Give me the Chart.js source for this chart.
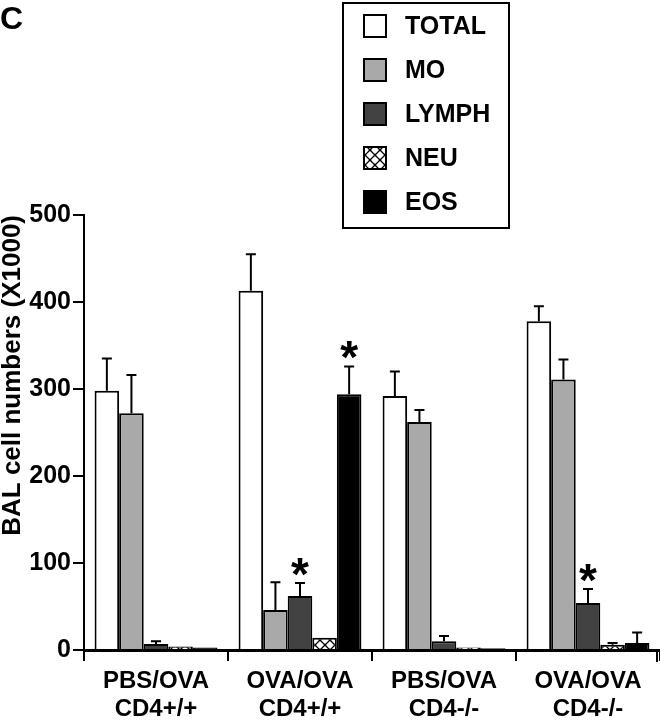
<!DOCTYPE html>
<html>
<head>
<meta charset="utf-8">
<script src="https://cdn.jsdelivr.net/npm/chart.js@4"></script>
<style>
  body { margin: 0; background: #fff; }
</style>
</head>
<body>
<canvas id="chart" width="660" height="720"></canvas>
<script>
// groups along x
const groups = [['PBS/OVA', 'CD4+/+'], ['OVA/OVA', 'CD4+/+'], ['PBS/OVA', 'CD4-/-'], ['OVA/OVA', 'CD4-/-']];
const yTicks = [0, 100, 200, 300, 400, 500];

// BAL cell numbers (x1000), mean values
const total = [298, 413, 292, 378];
const mo = [272, 46, 262, 311];
const lymph = [7, 62, 10, 54];
const neu = [4, 14, 3, 6];
const eos = [3, 294, 2, 8];

// upper error (SD) per series
const totalErr = [37, 42, 28, 17];
const moErr = [44, 32, 14, 23];
const lymphErr = [3, 15, 6, 16];
const neuErr = [0, 0, 0, 2];
const eosErr = [0, 32, 0, 12];

// significance stars: [series index, group index]
const stars = [[2, 1], [4, 1], [2, 3]];

const FONT = '"Liberation Sans", Arial, sans-serif';

// NEU fill: crosshatch with round holes
function neuPattern() {
    let c = document.createElement('canvas');
    c.width = 10; c.height = 10;
    let g = c.getContext('2d');
    g.fillStyle = '#fff'; g.fillRect(0, 0, 10, 10);
    g.strokeStyle = '#000'; g.lineWidth = 1.4;
    g.beginPath();
    g.moveTo(0, 0); g.lineTo(10, 10);
    g.moveTo(10, 0); g.lineTo(0, 10);
    g.stroke();
    g.fillStyle = '#fff';
    for (let [x, y] of [[5, 0], [0, 5], [10, 5], [5, 10]]) {
        g.beginPath(); g.arc(x, y, 2.6, 0, Math.PI * 2); g.fill();
    }
    return g.createPattern(c, 'repeat');
}

const series = [
    { label: 'TOTAL', data: total, err: totalErr, backgroundColor: '#ffffff' },
    { label: 'MO', data: mo, err: moErr, backgroundColor: '#a9a9a9' },
    { label: 'LYMPH', data: lymph, err: lymphErr, backgroundColor: '#424242' },
    { label: 'NEU', data: neu, err: neuErr, backgroundColor: neuPattern() },
    { label: 'EOS', data: eos, err: eosErr, backgroundColor: '#000000' },
];

// error bars + stars + legend box + panel letter
const extras = {
    id: 'extras',
    afterDatasetsDraw(chart) {
        let ctx = chart.ctx, y = chart.scales.y;
        ctx.save();
        ctx.strokeStyle = '#000'; ctx.lineWidth = 2;
        chart.data.datasets.forEach((ds, i) => {
            chart.getDatasetMeta(i).data.forEach((bar, j) => {
                let e = ds.err[j];
                if (!e) return;
                let top = y.getPixelForValue(ds.data[j] + e);
                ctx.beginPath();
                ctx.moveTo(bar.x, bar.y); ctx.lineTo(bar.x, top);
                ctx.moveTo(bar.x - 5, top); ctx.lineTo(bar.x + 5, top);
                ctx.stroke();
            });
        });
        // stars, glyph centre ~16px above the error cap
        ctx.fillStyle = '#000';
        ctx.font = 'bold 46px ' + FONT;
        ctx.textAlign = 'center'; ctx.textBaseline = 'alphabetic';
        let m = ctx.measureText('*');
        let mid = (m.actualBoundingBoxAscent - m.actualBoundingBoxDescent) / 2;
        stars.forEach(([i, j]) => {
            let ds = chart.data.datasets[i];
            let bar = chart.getDatasetMeta(i).data[j];
            let top = y.getPixelForValue(ds.data[j] + ds.err[j]);
            ctx.fillText('*', bar.x, top - 16 + mid);
        });
        ctx.restore();
    },
    afterDraw(chart) {
        let ctx = chart.ctx;
        ctx.save();
        // axis end tick
        ctx.strokeStyle = '#000'; ctx.lineWidth = 2;
        ctx.beginPath(); ctx.moveTo(657, 650); ctx.lineTo(657, 662); ctx.stroke();
        // legend
        ctx.fillStyle = '#fff';
        ctx.fillRect(343, 3, 166, 225);
        ctx.strokeRect(343, 3, 166, 225);
        ctx.font = 'bold 25px ' + FONT;
        ctx.textAlign = 'left'; ctx.textBaseline = 'middle';
        chart.data.datasets.forEach((ds, i) => {
            let top = 15 + i * 44;
            ctx.fillStyle = ds.backgroundColor;
            ctx.fillRect(364, top, 22, 22);
            ctx.strokeRect(364, top, 22, 22);
            ctx.fillStyle = '#000';
            ctx.fillText(ds.label, 405, top + 12);
        });
        // panel letter
        ctx.font = 'bold 32px ' + FONT;
        ctx.textBaseline = 'top';
        ctx.fillText('C', 0, 4);
        ctx.restore();
    }
};

new Chart(document.getElementById('chart'), {
    type: 'bar',
    data: {
        labels: groups,
        datasets: series.map(s => ({
            label: s.label, data: s.data, err: s.err,
            backgroundColor: s.backgroundColor,
            borderColor: '#000', borderWidth: 2,
            categoryPercentage: 0.853, barPercentage: 1.0,
        }))
    },
    options: {
        responsive: false,
        animation: false,
        devicePixelRatio: 1,
        layout: { padding: { top: 215, right: -10, left: 0, bottom: 0 } },
        plugins: { legend: { display: false }, tooltip: { enabled: false } },
        scales: {
            x: {
                grid: { display: true, offset: true, drawOnChartArea: false, drawTicks: true, tickLength: 11, color: '#000', lineWidth: 2 },
                border: { display: true, color: '#000', width: 3 },
                ticks: { color: '#000', font: { family: FONT, size: 24, weight: 'bold', lineHeight: 1.15 }, padding: 7, maxRotation: 0 },
                afterFit: s => { s.height = 70; }
            },
            y: {
                min: 0, max: 500,
                afterBuildTicks: s => { s.ticks = yTicks.map(v => ({ value: v })); },
                grid: { display: true, drawOnChartArea: false, drawTicks: true, tickLength: 11, color: '#000', lineWidth: 2 },
                border: { display: true, color: '#000', width: 2 },
                ticks: { color: '#000', font: { family: FONT, size: 25, weight: 'bold' }, padding: 2 },
                title: { display: true, text: 'BAL cell numbers (X1000)', align: 'end', color: '#000', font: { family: FONT, size: 26, weight: 'bold', lineHeight: 1.0 }, padding: { top: 0, bottom: 0 } },
                afterFit: s => { s.width = 84; }
            }
        }
    },
    plugins: [extras]
});
</script>
</body>
</html>
